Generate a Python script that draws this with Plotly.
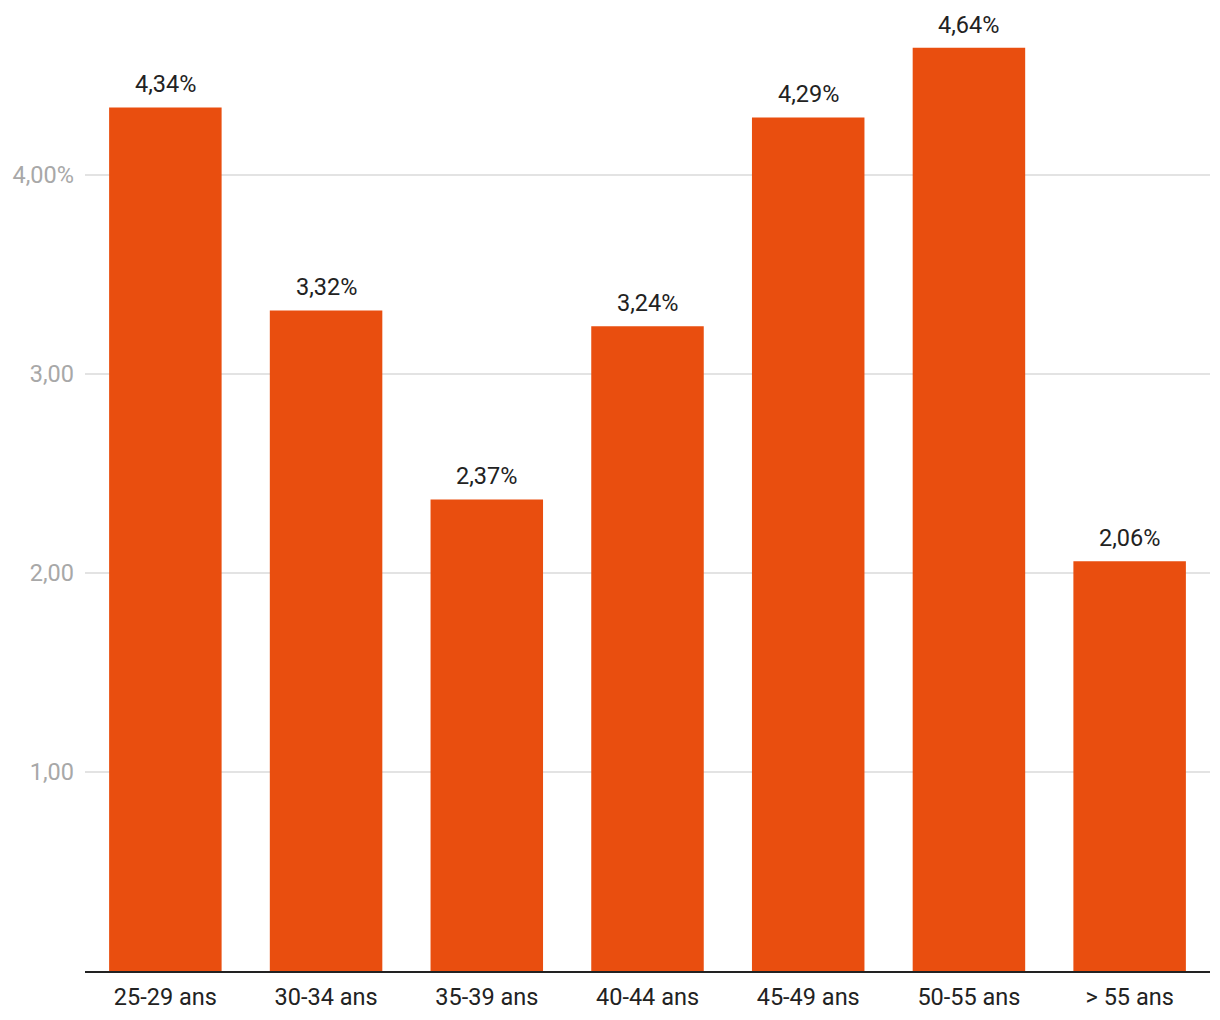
import plotly.graph_objects as go

categories = ["25-29 ans", "30-34 ans", "35-39 ans", "40-44 ans", "45-49 ans", "50-55 ans", "> 55 ans"]
values = [4.34, 3.32, 2.37, 3.24, 4.29, 4.64, 2.06]
labels = ["4,34%", "3,32%", "2,37%", "3,24%", "4,29%", "4,64%", "2,06%"]
ytick_vals = [1, 2, 3, 4]
ytick_text = ["1,00", "2,00", "3,00", "4,00%"]

fig = go.Figure()
fig.add_trace(go.Bar(x=categories, y=values, marker_color="#E94E0F",
                     marker_line_width=0, hoverinfo="skip"))

for c, v, t in zip(categories, values, labels):
    fig.add_annotation(x=c, y=v, text=t, showarrow=False, yanchor="bottom",
                       yshift=7, font=dict(family="Roboto", size=23.5, color="#222222"))

fig.update_layout(
    width=1220, height=1020,
    margin=dict(l=85, r=10, t=10, b=49),
    plot_bgcolor="white", paper_bgcolor="white",
    bargap=0.3, showlegend=False,
    font=dict(family="Roboto", size=23.5, color="#222222"),
)
fig.update_xaxes(showgrid=False, showline=True, linecolor="#222222", linewidth=2,
                 ticks="", ticklabelstandoff=4,
                 tickfont=dict(family="Roboto", size=23.5, color="#222222"))
fig.update_yaxes(range=[0, 4.83], tickvals=ytick_vals, ticktext=ytick_text,
                 showgrid=True, gridcolor="#e3e3e3", gridwidth=1.5,
                 zeroline=False, showline=False, ticks="", ticklabelstandoff=10,
                 tickfont=dict(family="Roboto", size=23.5, color="#a8a8a8"))

fig.write_html("out.html")
